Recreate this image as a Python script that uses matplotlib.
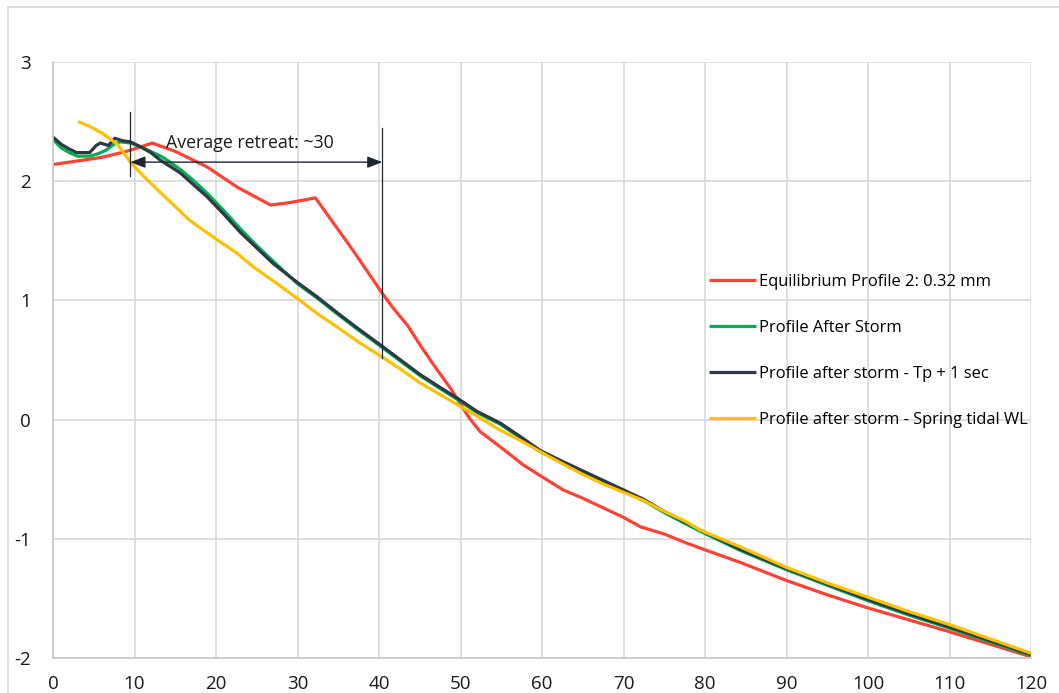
import matplotlib
matplotlib.use("Agg")
import matplotlib.pyplot as plt
from matplotlib.patches import Rectangle

plt.rcParams['font.family'] = ['Open Sans', 'DejaVu Sans']
plt.rcParams['axes.unicode_minus'] = False

# Cross-shore distance (m) and bed level (m) for each profile
x_eq = [0, 3, 6, 9, 12.2, 15, 18.9, 22.6, 26.7, 29, 32.2, 34.5, 36.8, 38.5, 40.5, 41.8,
        43.5, 45.1, 47, 48.8, 50, 51, 52.4, 54.9, 57.7, 60, 62.6, 65, 67.5, 70, 72.1, 75,
        77.5, 80.3, 84.4, 87, 90, 95, 100, 105, 110, 115, 120]
y_eq = [2.14, 2.17, 2.20, 2.25, 2.32, 2.25, 2.12, 1.95, 1.80, 1.82, 1.86, 1.64, 1.42, 1.25,
        1.05, 0.93, 0.79, 0.62, 0.43, 0.26, 0.13, 0.02, -0.10, -0.23, -0.38, -0.48, -0.59,
        -0.66, -0.74, -0.82, -0.90, -0.96, -1.03, -1.10, -1.20, -1.27, -1.35, -1.47, -1.58,
        -1.68, -1.78, -1.885, -1.99]

x_storm = [0, 1, 2, 3, 4.5, 5.5, 6.5, 7.5, 8.3, 9.5, 10.7, 12, 13.5, 15.6, 17, 18.9, 21, 23,
           25, 27, 30, 32.4, 35, 37.5, 40.5, 45, 47.5, 49.6, 52, 54.9, 57.5, 59.8, 62.5, 65,
           67.5, 70, 72.5, 75, 77.5, 79.5, 84.4, 90, 95, 100, 105, 110, 115, 120]
y_storm = [2.35, 2.28, 2.24, 2.21, 2.21, 2.23, 2.26, 2.31, 2.33, 2.32, 2.29, 2.25, 2.20, 2.10,
           2.02, 1.90, 1.75, 1.60, 1.46, 1.33, 1.14, 1.02, 0.88, 0.75, 0.60, 0.37, 0.26, 0.17,
           0.06, -0.04, -0.16, -0.27, -0.36, -0.44, -0.52, -0.60, -0.68, -0.78, -0.87, -0.94,
           -1.10, -1.26, -1.39, -1.52, -1.64, -1.75, -1.865, -1.98]

x_tp = [0, 1, 2, 2.9, 4.5, 5.3, 5.8, 6.8, 7.6, 8.5, 9.5, 10.7, 12, 13.1, 15.6, 18.9, 21, 23,
        25, 27, 30, 32.4, 35, 37.5, 40.5, 45, 47.5, 49.6, 52, 54.9, 57.5, 59.8, 62.5, 65,
        67.5, 70, 72.5, 75, 77.5, 79.5, 84.4, 90, 95, 100, 105, 110, 115, 120]
y_tp = [2.37, 2.31, 2.27, 2.24, 2.24, 2.30, 2.32, 2.30, 2.36, 2.34, 2.33, 2.29, 2.24, 2.18,
        2.07, 1.87, 1.72, 1.57, 1.44, 1.31, 1.15, 1.03, 0.89, 0.76, 0.61, 0.38, 0.27, 0.18,
        0.07, -0.03, -0.15, -0.26, -0.35, -0.43, -0.51, -0.59, -0.67, -0.77, -0.86, -0.93,
        -1.09, -1.25, -1.38, -1.51, -1.63, -1.74, -1.855, -1.97]

x_spring = [3.1, 4.5, 6.1, 7.9, 9.5, 11, 12.8, 14.8, 16.8, 20.1, 22.5, 24.6, 27.5, 30.3, 32.4,
            35, 37.5, 40.5, 42.5, 45, 47.5, 50, 52.5, 54.9, 57.5, 59.8, 62.5, 65, 67.5, 70,
            72.5, 75, 77.5, 79.5, 84.4, 90, 95, 100, 105, 110, 115, 120]
y_spring = [2.50, 2.46, 2.40, 2.31, 2.16, 2.05, 1.93, 1.80, 1.67, 1.51, 1.40, 1.28, 1.14, 1.00,
            0.89, 0.77, 0.65, 0.52, 0.43, 0.31, 0.21, 0.11, 0.01, -0.09, -0.18, -0.27, -0.37,
            -0.46, -0.54, -0.61, -0.68, -0.77, -0.85, -0.93, -1.07, -1.24, -1.37, -1.49,
            -1.61, -1.72, -1.84, -1.96]

labels = ["Equilibrium Profile 2: 0.32 mm", "Profile After Storm",
          "Profile after storm - Tp + 1 sec", "Profile after storm - Spring tidal WL"]
colors = ["#FF4136", "#00B050", "#2E3846", "#FFC000"]

# retreat markers: landward and seaward limits
retreat_start, retreat_end = 9.5, 40.4
retreat_text = "Average retreat: ~30"

x_ticks = list(range(0, 121, 10))
y_ticks = [-2, -1, 0, 1, 2, 3]

fig = plt.figure(figsize=(10.59, 6.93), dpi=100)
ax = fig.add_axes([53 / 1059, 1 - 658 / 693, (1031 - 53) / 1059, (658 - 62) / 693])

# light outer border of the chart area
fig.patches.append(Rectangle((8 / 1059, -0.1), 1.2, 1 - 7 / 693 + 0.1,
                             transform=fig.transFigure, fill=False,
                             edgecolor="#d9d9d9", linewidth=1.2))

lw = 2.3
ax.plot(x_eq, y_eq, color=colors[0], lw=lw, label=labels[0], solid_capstyle="butt")
ax.plot(x_storm, y_storm, color=colors[1], lw=lw, label=labels[1], solid_capstyle="butt")
ax.plot(x_tp, y_tp, color=colors[2], lw=lw, label=labels[2], solid_capstyle="butt")
ax.plot(x_spring, y_spring, color=colors[3], lw=lw, label=labels[3], solid_capstyle="butt")

# retreat annotation
ann_c = "#1E2630"
ax.plot([retreat_start, retreat_start], [2.04, 2.58], color=ann_c, lw=0.9)
ax.plot([retreat_end, retreat_end], [0.52, 2.45], color=ann_c, lw=0.9)
ax.annotate("", xy=(retreat_start, 2.16), xytext=(retreat_end, 2.16),
            arrowprops=dict(arrowstyle="<|-|>,head_length=0.9,head_width=0.35",
                            color=ann_c, lw=1.0, shrinkA=0, shrinkB=0))
ax.text(13.9, 2.32, retreat_text, fontsize=12.8, color="#1a1a1a", va="center", ha="left")

ax.set_xlim(0, 120)
ax.set_ylim(-2, 3)
ax.set_xticks(x_ticks)
ax.set_yticks(y_ticks)
ax.grid(True, color="#d9d9d9", lw=1.2)
ax.set_axisbelow(True)
ax.tick_params(length=0, labelsize=13.5, colors="#1a1a1a")
ax.tick_params(axis="x", pad=12)
ax.tick_params(axis="y", pad=16)
for s in ["top", "right"]:
    ax.spines[s].set_visible(False)
for s in ["left", "bottom"]:
    ax.spines[s].set_color("#c8c8c8")
    ax.spines[s].set_linewidth(1.2)

leg = ax.legend(loc="center left", bbox_to_anchor=(656 / 978, (658 - 351) / 596),
                frameon=False, fontsize=11.9, handlelength=2.85, handletextpad=0.15,
                labelspacing=1.82, borderaxespad=0, borderpad=0)

fig.savefig("out.png", dpi=100)
